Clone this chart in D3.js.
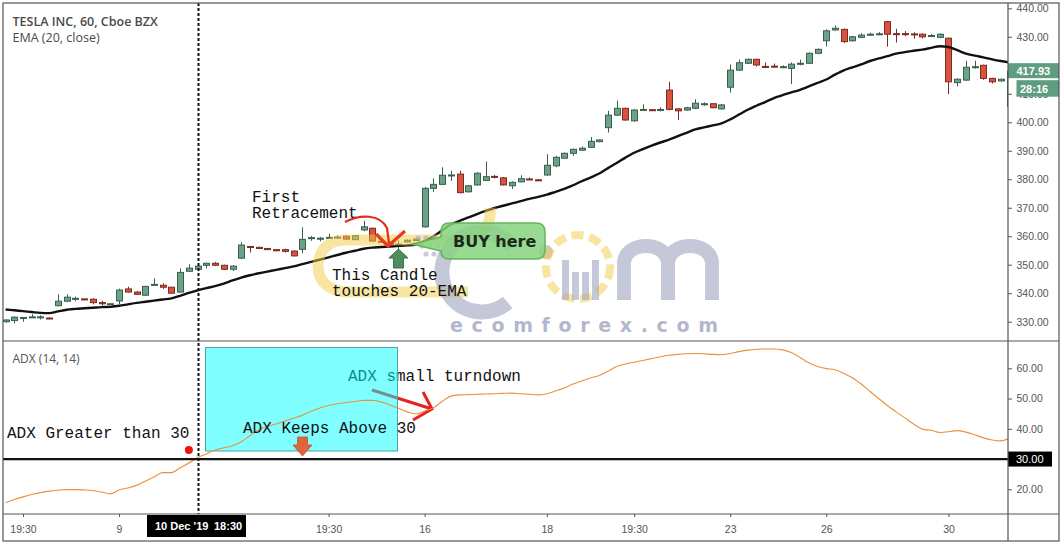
<!DOCTYPE html>
<html><head><meta charset="utf-8">
<script src="https://cdn.jsdelivr.net/npm/d3@7"></script>
<style>
html,body{margin:0;padding:0;background:#fff;}
svg{display:block;}
</style></head><body>
<svg id="chart" width="1060" height="544"></svg>
<script>
// ---------------- DATA ----------------
const opens = [330.0,330.4,331.4,331.6,331.6,331.3,335.6,337.2,338.1,338.0,337.9,336.7,336.2,337.3,341.5,340.4,339.3,342.9,342.8,342.1,
340.4,347.7,348.4,349.8,350.5,349.8,348.4,352.3,356.4,356.1,355.7,355.3,355.3,354.8,355.4,359.4,359.2,359.5,359.6,360.0,
358.8,362.2,362.8,358.2,357.9,357.1,358.0,358.5,363.3,376.8,378.2,381.4,381.8,375.6,378.0,379.6,381.0,380.5,377.7,379.1,
380.1,379.8,381.5,384.7,387.4,389.1,390.2,391.2,393.2,398.1,402.5,404.9,400.5,404.4,404.4,404.2,411.3,404.7,404.3,404.9,
406.4,406.5,404.7,412.3,418.3,420.7,422.1,419.6,419.7,419.4,418.9,420.6,420.7,424.2,428.6,432.4,432.6,428.6,429.8,430.8,
431.0,435.3,431.1,431.1,431.0,430.9,430.4,429.8,429.5,413.9,414.8,419.4,420.0,415.4,414.5,405.6];
const highs = [330.9,331.8,331.6,332.6,332.3,331.5,339.6,339.6,338.8,338.1,338.2,337.3,336.4,341.6,342.3,340.7,342.6,345.2,343.5,342.2,
348.7,350.2,350.3,350.7,351.0,350.0,349.8,357.9,356.5,356.3,355.9,355.5,355.6,355.0,363.1,360.1,359.7,360.9,360.3,360.2,
360.4,365.4,363.0,358.3,358.0,358.5,358.8,359.3,377.3,380.3,384.2,383.0,383.0,378.0,382.5,386.2,381.5,380.8,379.3,381.4,
380.6,380.0,388.8,388.2,389.4,390.8,391.5,394.8,394.0,404.0,407.6,405.1,404.6,406.3,404.6,405.2,414.2,405.0,405.4,408.1,
407.0,406.7,406.4,420.3,422.0,422.4,422.3,421.0,420.6,420.0,421.0,422.0,424.5,425.9,432.6,434.0,432.9,430.3,431.3,431.4,
431.7,435.5,432.8,432.0,431.6,431.2,431.0,431.2,429.7,415.4,421.6,421.6,420.2,415.6,415.3,418.6];
const lows = [329.6,329.4,330.0,331.4,330.8,330.9,335.4,336.9,337.2,337.6,336.1,335.6,335.9,336.2,340.2,339.4,339.1,342.8,341.5,339.9,
340.2,347.5,348.2,348.7,349.5,348.2,347.8,352.0,354.3,355.5,355.1,354.7,354.3,352.9,354.0,358.4,358.2,359.3,359.2,358.8,
358.6,361.8,358.1,357.9,356.6,355.4,357.8,358.3,363.0,375.6,378.0,379.4,375.0,375.3,377.8,379.4,380.3,377.8,376.6,378.9,
379.7,379.4,381.2,384.2,387.2,388.2,389.9,391.0,393.0,396.4,402.2,400.5,400.2,404.2,404.1,403.8,404.2,400.8,404.0,404.6,
405.8,404.9,404.4,410.4,418.0,420.4,419.6,419.0,419.1,419.0,413.4,420.0,420.4,423.9,426.6,432.1,427.8,428.3,429.5,430.4,
430.6,426.5,428.0,430.2,429.3,429.4,429.9,429.5,409.9,412.6,414.5,418.8,414.9,413.6,414.3,405.4];
const closes = [330.6,331.6,331.5,331.7,331.7,331.1,337.2,338.6,338.2,337.8,336.7,336.3,336.3,341.1,340.4,339.6,342.4,343.1,342.1,340.0,
347.3,348.8,349.5,350.5,349.8,348.4,349.5,356.9,356.3,355.7,355.3,354.9,354.7,353.1,358.9,359.5,359.3,359.6,359.7,359.0,
360.2,363.3,358.3,358.1,356.8,357.2,358.6,359.0,376.8,378.2,381.4,381.5,375.3,377.7,382.1,380.9,380.9,378.0,378.9,380.2,
380.0,379.7,384.9,387.7,389.1,390.5,390.9,393.3,393.8,402.5,404.9,400.8,404.3,404.5,404.3,404.5,404.5,404.0,405.1,406.7,
406.5,405.1,406.1,418.3,420.9,422.1,420.1,419.5,419.6,419.5,420.4,420.7,424.2,425.6,432.1,433.0,428.3,430.0,430.6,430.9,
431.05,430.9,431.0,431.0,430.9,430.0,430.45,430.9,414.2,415.1,419.3,419.5,415.4,414.2,415.1,417.93];
const ema20 = [334.3,334.0,333.7,333.4,333.1,333.0,333.6,334.2,334.5,334.7,334.9,335.1,335.2,335.6,336.1,336.6,337.0,337.4,337.8,338.2,
339.1,340.1,341.0,341.8,342.5,343.4,344.5,345.5,346.3,347.0,347.6,348.2,348.8,349.4,350.2,351.0,351.8,352.6,353.4,354.2,
354.9,355.6,356.0,356.2,356.4,356.6,356.8,357.1,358.3,359.9,362.0,364.1,365.4,366.6,367.8,368.9,369.9,370.7,371.5,372.3,
373.1,373.8,374.6,375.6,376.6,377.9,379.3,380.6,382.0,383.9,385.7,387.6,389.3,390.6,391.8,392.9,393.9,395.1,396.3,397.5,
398.2,398.9,399.6,401.0,402.7,404.4,405.8,407.1,408.5,409.5,410.5,411.4,412.6,413.8,415.0,416.7,418.2,419.3,420.3,421.5,
422.4,423.2,424.1,424.6,425.1,425.5,426.1,426.7,426.4,425.3,424.1,423.4,422.8,422.1,421.5,421.0];
const adx = [15.5,16.6,17.5,18.3,18.9,19.4,19.7,19.9,19.9,19.8,19.6,19.1,18.5,19.8,20.4,21.3,22.7,24.1,25.5,25.5,
27.1,28.7,30.5,31.7,33.0,33.7,34.4,35.7,37.7,39.7,40.8,41.6,42.6,43.5,44.5,45.8,46.9,47.7,48.3,48.7,
49.0,49.4,49.4,48.9,47.9,46.8,45.6,44.9,45.9,46.9,49.0,50.8,51.2,51.3,51.4,51.5,51.6,51.7,51.8,51.6,
51.4,51.2,51.6,52.5,53.5,54.8,55.8,56.8,57.6,59.0,60.6,61.4,62.0,62.6,63.2,63.8,64.3,64.6,64.8,64.9,
64.8,64.6,64.5,64.9,65.5,66.0,66.3,66.4,66.4,66.1,65.2,63.6,61.8,60.6,59.9,59.5,58.3,56.9,54.8,52.4,
50.0,47.7,45.6,43.6,41.6,39.9,39.5,38.8,39.0,39.4,38.9,38.0,37.0,36.3,36.0,36.9];
// 420.00 sits fully behind the last-price label in the reference, so it is not listed
const priceTicks = [330,340,350,360,370,380,390,400,410,430,440];
const adxTicks = [20,40,50,60];
const adxLevel = 30;
const timeTickIndex = [2,13,37,48,62,72,83,94,108];
const timeTickLabels = ["19:30","9","19:30","16","18","19:30","23","26","30"];
const markerIndex = 22;
const markerLabel = ["10 Dec '19","18:30"];
const lastPrice = 417.93;
const countdown = "28:16";
const titleText = "TESLA INC, 60, Cboe BZX";
const emaText = "EMA (20, close)";
const adxText = "ADX (14, 14)";

// ---------------- LAYOUT ----------------
const L = 3, R = 1008, FR = 1059, T = 3, PB = 341, AB = 514, FB = 541;
const svg = d3.select('#chart');
const defs = svg.append('defs');
defs.append('clipPath').attr('id','clipP').append('rect').attr('x',L).attr('y',T).attr('width',R-L).attr('height',PB-T);
defs.append('clipPath').attr('id','clipA').append('rect').attr('x',L).attr('y',PB).attr('width',R-L).attr('height',AB-PB);

const x = d3.scaleLinear().domain([0,115]).range([5.54, 5.54+115*8.731]);
const yP = d3.scaleLinear().domain([330,440]).range([321.7, 8.3]);
const yA = d3.scaleLinear().domain([20,60]).range([489.3, 368.3]);

svg.append('rect').attr('width',1060).attr('height',544).attr('fill','#fff');

// ---------- price panel ----------
const gP = svg.append('g').attr('clip-path','url(#clipP)');
const data = opens.map((o,i)=>({i,o,h:highs[i],l:lows[i],c:closes[i]}));
const up = d => d.c >= d.o;
const gC = gP.append('g');
gC.selectAll('line.wick').data(data).join('line').attr('class','wick')
  .attr('x1',d=>Math.round(x(d.i))+0.5).attr('x2',d=>Math.round(x(d.i))+0.5)
  .attr('y1',d=>yP(d.h)).attr('y2',d=>yP(d.l))
  .attr('stroke',d=>up(d)?'#3b5f4d':'#7c2d21').attr('stroke-width',1);
gC.selectAll('rect.body').data(data).join('rect').attr('class','body')
  .attr('x',d=>Math.round(x(d.i))-2.5).attr('width',6)
  .attr('y',d=>yP(Math.max(d.o,d.c)))
  .attr('height',d=>Math.max(1, Math.abs(yP(d.o)-yP(d.c))))
  .attr('fill',d=>up(d)?'#6aa387':'#d9523d')
  .attr('stroke',d=>up(d)?'#3b5f4d':'#7c2d21').attr('stroke-width',1);

gP.append('path').datum(ema20)
  .attr('d', d3.line().x((d,i)=>x(i)).y(d=>yP(d)).curve(d3.curveMonotoneX))
  .attr('fill','none').attr('stroke','#111').attr('stroke-width',2.4);

// watermark
const wm = gP.append('g');
const yel = '#f2cb45', gry = '#9ea3c0';
wm.append('path').attr('d','M 490,208 C 492,228 480,240 455,240 L 345,240 C 325,240 318,255 318,266 C 318,280 328,292 348,292 L 468,292')
  .attr('fill','none').attr('stroke',yel).attr('stroke-width',11).attr('stroke-opacity',0.5);
wm.append('path').attr('d','M 512.6,246.3 A 40,40 0 1 0 507.7,302.6')
  .attr('fill','none').attr('stroke',gry).attr('stroke-width',15).attr('stroke-opacity',0.6);
wm.append('circle').attr('cx',546).attr('cy',252).attr('r',7).attr('fill',gry).attr('fill-opacity',0.6);
wm.append('circle').attr('cx',578).attr('cy',267).attr('r',32).attr('fill','none').attr('stroke',yel)
  .attr('stroke-width',8).attr('stroke-dasharray','12,6').attr('stroke-opacity',0.5);
[[562,40],[572,28],[582,28],[592,40]].forEach(b=>{
  wm.append('rect').attr('x',b[0]).attr('y',300-b[1]).attr('width',7).attr('height',b[1]).attr('fill',gry).attr('fill-opacity',0.6);
});
wm.append('path').attr('d','M 624,300 L 624,264 C 624,240 668,240 668,264 L 668,300 M 668,264 C 668,240 712,240 712,264 L 712,300')
  .attr('fill','none').attr('stroke',gry).attr('stroke-width',14).attr('stroke-opacity',0.6);
[[418,238],[426,238],[434,238],[422,246],[430,246],[438,246],[426,254],[434,254],[442,254]].forEach(p=>{
  wm.append('circle').attr('cx',p[0]).attr('cy',p[1]).attr('r',2.6).attr('fill',gry).attr('fill-opacity',0.55);
});
wm.append('text').attr('x',450).attr('y',332).attr('textLength',268).attr('lengthAdjust','spacing')
  .attr('font-family','DejaVu Sans').attr('font-weight','bold').attr('font-size',19)
  .attr('fill',gry).attr('fill-opacity',0.8).text('ecomforex.com');

// price annotations
const mono = "'Courier New','Liberation Mono',monospace";
const ann = svg.append('g').attr('font-family',mono).attr('font-size',16).attr('fill','#111');
ann.append('text').attr('x',252).attr('y',202).text('First');
ann.append('text').attr('x',252).attr('y',218).text('Retracement');
ann.append('text').attr('x',332).attr('y',280).text('This Candle');
ann.append('text').attr('x',332).attr('y',296).text('touches 20-EMA');

svg.append('path').attr('d','M 345,222 C 360,214 380,214 387,228 L 389,243')
  .attr('fill','none').attr('stroke','#e32a1d').attr('stroke-width',2.2);
svg.append('path').attr('d','M 376,234 L 388,246 L 405,231')
  .attr('fill','none').attr('stroke','#ea3b1c').attr('stroke-width',3.2).attr('stroke-linejoin','round');

// green up arrow at the touching candle
const ax = x(45);
svg.append('path').attr('d',`M ${ax-9.5},258 L ${ax},249 L ${ax+9.5},258 L ${ax+5},258 L ${ax+5},268 L ${ax-5},268 L ${ax-5},258 Z`)
  .attr('fill','#4d8f5c').attr('stroke','#3a6f46').attr('stroke-width',1);

// BUY here bubble
svg.append('path').attr('d','M 449,223 H 536 Q 545,223 545,232 V 250 Q 545,259 536,259 H 449 Q 441,259 441,250 V 251 L 412,244 L 441,237 V 232 Q 441,223 449,223 Z')
  .attr('fill','#86d37f').attr('fill-opacity',0.85).attr('stroke','#63b65a').attr('stroke-width',1.5);
svg.append('text').attr('x',453).attr('y',246.5).attr('font-family','DejaVu Sans').attr('font-weight','bold')
  .attr('font-size',16).attr('fill','#1d2a1b').text('BUY here');

// ---------- ADX panel ----------
const gA = svg.append('g').attr('clip-path','url(#clipA)');
gA.append('text').attr('x',348).attr('y',381).attr('font-family',mono).attr('font-size',16).attr('fill','#111').text('ADX small turndown');
gA.append('path').attr('d','M 372,390 L 432,409 M 423,392 L 432,409 L 413,420')
  .attr('fill','none').attr('stroke','#e62222').attr('stroke-width',3).attr('stroke-linejoin','miter');
gA.append('rect').attr('x',205.5).attr('y',347.5).attr('width',192).attr('height',103.5)
  .attr('fill','#00ffff').attr('fill-opacity',0.5).attr('stroke','#4aa5a5').attr('stroke-width',1);
gA.append('path').datum(adx)
  .attr('d', d3.line().x((d,i)=>x(i)).y(d=>yA(d)).curve(d3.curveMonotoneX))
  .attr('fill','none').attr('stroke','#e8923a').attr('stroke-width',1.1);
gA.append('line').attr('x1',L).attr('x2',R).attr('y1',yA(adxLevel)).attr('y2',yA(adxLevel))
  .attr('stroke','#111').attr('stroke-width',2.2);
gA.append('text').attr('x',243).attr('y',432.5).attr('font-family',mono).attr('font-size',16).attr('fill','#111').text('ADX Keeps Above 30');
gA.append('path').attr('d','M 297.5,437 H 307.5 V 445 H 312 L 302.5,456 L 293,445 H 297.5 Z')
  .attr('fill','#e0643c').attr('stroke','#b05a40').attr('stroke-width',0.8);
gA.append('text').attr('x',7).attr('y',438).attr('font-family',mono).attr('font-size',16).attr('fill','#111').text('ADX Greater than 30');
gA.append('circle').attr('cx',x(21)).attr('cy',450).attr('r',4).attr('fill','#ee1111');

// labels
const sans = "'Open Sans','Noto Sans',sans-serif";
svg.append('text').attr('x',12.5).attr('y',25.5).attr('font-family',sans).attr('font-weight',600).attr('font-size',12.5).attr('fill','#4a4a4a').text(titleText);
svg.append('text').attr('x',12.5).attr('y',41.5).attr('font-family',sans).attr('font-size',12.5).attr('fill','#4a4a4a').text(emaText);
svg.append('text').attr('x',12.5).attr('y',363).attr('font-family',sans).attr('font-size',12).attr('fill','#555').text(adxText);

// crosshair dashed line
const mx = Math.round(x(markerIndex))+0.5;
svg.append('line').attr('x1',mx).attr('x2',mx).attr('y1',T).attr('y2',AB)
  .attr('stroke','#111').attr('stroke-width',2).attr('stroke-dasharray','3,2');

// ---------- axes ----------
const axFont = "'Liberation Sans',Arial,sans-serif";
const pAxis = svg.append('g').attr('transform',`translate(${R},0)`)
  .call(d3.axisRight(yP).tickValues(priceTicks).tickFormat(d3.format('.2f')).tickSize(4).tickPadding(4.5));
const aAxis = svg.append('g').attr('transform',`translate(${R},0)`)
  .call(d3.axisRight(yA).tickValues(adxTicks).tickFormat(d3.format('.2f')).tickSize(4).tickPadding(4.5));
const xAxis = svg.append('g').attr('transform',`translate(0,${AB})`)
  .call(d3.axisBottom(x).tickValues(timeTickIndex).tickFormat((d,i)=>timeTickLabels[i]).tickSize(3).tickPadding(9));
[pAxis,aAxis,xAxis].forEach(g=>{
  g.select('.domain').remove();
  g.selectAll('line').attr('stroke','#555');
  g.selectAll('text').attr('font-family',axFont).attr('font-size',10.5).attr('fill','#555');
});

// price labels
svg.append('rect').attr('x',R).attr('y',yP(lastPrice)-8).attr('width',FR-R).attr('height',15).attr('fill','#5f9c80');
svg.append('text').attr('x',1016.5).attr('y',yP(lastPrice)).attr('dy','0.35em').attr('font-family',axFont)
  .attr('font-weight','bold').attr('font-size',11).attr('fill','#fff').text(lastPrice.toFixed(2));
svg.append('rect').attr('x',1016.5).attr('y',yP(lastPrice)+9).attr('width',FR-1016.5).attr('height',16.5).attr('fill','#5f9c80');
svg.append('text').attr('x',1020).attr('y',yP(lastPrice)+17.5).attr('dy','0.35em').attr('font-family',axFont)
  .attr('font-weight','bold').attr('font-size',11).attr('fill','#fff').text(countdown);
svg.append('rect').attr('x',R).attr('y',yA(adxLevel)-7.5).attr('width',44).attr('height',15).attr('fill','#000');
svg.append('text').attr('x',1016).attr('y',yA(adxLevel)).attr('dy','0.35em').attr('font-family',axFont)
  .attr('font-size',11).attr('fill','#fff').text(adxLevel.toFixed(2));

// crosshair date label
svg.append('rect').attr('x',147).attr('y',AB+1).attr('width',99).attr('height',22).attr('fill','#000');
svg.append('text').attr('x',155).attr('y',526.5).attr('dy','0.35em').attr('font-family',axFont)
  .attr('font-weight','bold').attr('font-size',11).attr('fill','#fff').text(markerLabel[0]);
svg.append('text').attr('x',214).attr('y',526.5).attr('dy','0.35em').attr('font-family',axFont)
  .attr('font-weight','bold').attr('font-size',11).attr('fill','#fff').text(markerLabel[1]);

// frame
const fr = svg.append('g').attr('stroke','#555').attr('stroke-width',1.2).attr('fill','none');
fr.append('rect').attr('x',L).attr('y',T).attr('width',FR-L).attr('height',FB-T);
fr.append('line').attr('x1',L).attr('x2',FR).attr('y1',PB).attr('y2',PB);
fr.append('line').attr('x1',L).attr('x2',FR).attr('y1',AB).attr('y2',AB);
fr.append('line').attr('x1',R).attr('x2',R).attr('y1',T).attr('y2',FB);
</script>
</body></html>
